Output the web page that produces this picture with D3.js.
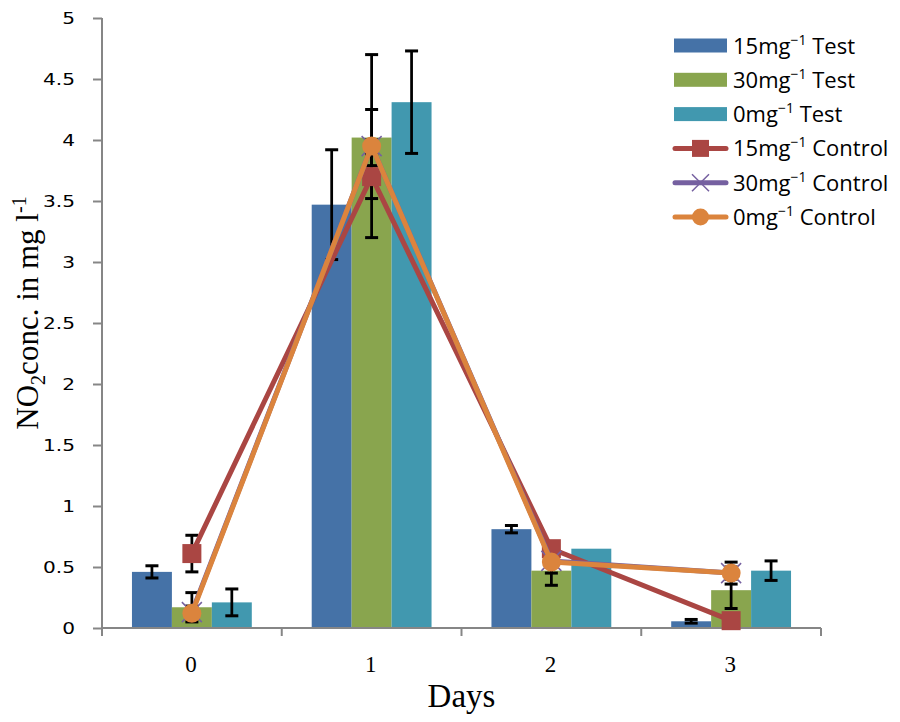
<!DOCTYPE html>
<html>
<head>
<meta charset="utf-8">
<script src="https://cdn.jsdelivr.net/npm/d3@7"></script>
<style>
  html, body { margin: 0; padding: 0; background: #fff; }
  svg { display: block; }
</style>
</head>
<body>
<div id="chart"></div>
<script>
// ---------- DATA ----------
const categories = ["0", "1", "2", "3"];
const yTickValues = [0, 0.5, 1, 1.5, 2, 2.5, 3, 3.5, 4, 4.5, 5];
const yTickLabels = ["0", "0.5", "1", "1.5", "2", "2.5", "3", "3.5", "4", "4.5", "5"];

const test15 = [0.46, 3.47, 0.81, 0.055];
const test15Err = [0.05, 0.45, 0.03, 0.015];
const test30 = [0.17, 4.02, 0.47, 0.31];
const test30Err = [0.12, 0.23, 0.12, 0.15];
const test0 = [0.21, 4.31, 0.65, 0.47];
const test0Err = [0.11, 0.42, 0, 0.08];

const control15 = [0.61, 3.70, 0.65, 0.06];
const control15Err = [0.15, 0.18, 0, 0];
const control30 = [0.13, 3.95, 0.55, 0.45];
const control30Err = [0.05, 0.05, 0.10, 0.05];
const control0 = [0.12, 3.95, 0.54, 0.45];
const control0Err = [0, 0.75, 0, 0.09];

const barNames = ["15mg", "30mg", "0mg"];
const lineNames = ["15mg", "30mg", "0mg"];

// ---------- STRUCTURES ----------
const barSeries = [
  { name: barNames[0], values: test15, err: test15Err, color: "#4572A7" },
  { name: barNames[1], values: test30, err: test30Err, color: "#89A54E" },
  { name: barNames[2], values: test0, err: test0Err, color: "#4198AF" }
];
const lineSeries = [
  { name: lineNames[0], values: control15, err: control15Err, color: "#AA4643", marker: "square" },
  { name: lineNames[1], values: control30, err: control30Err, color: "#7560A0", marker: "x" },
  { name: lineNames[2], values: control0, err: control0Err, color: "#DB843D", marker: "circle" }
];

// ---------- LAYOUT ----------
const W = 900, H = 722;
const plot = { left: 102, right: 821, top: 18, bottom: 628 };

const svg = d3.select("#chart").append("svg").attr("width", W).attr("height", H);

const x0 = d3.scaleBand().domain(categories).range([plot.left, plot.right]).paddingInner(0).paddingOuter(0);
const x1 = d3.scaleBand().domain(barSeries.map((d, i) => i)).range([0, x0.bandwidth()]).paddingInner(0).paddingOuter(0.75);
const y = d3.scaleLinear().domain([0, 5]).range([plot.bottom, plot.top]);

// ---------- BARS ----------
const barG = svg.append("g");
barSeries.forEach((s, si) => {
  barG.selectAll(null).data(categories).enter().append("rect")
    .attr("x", c => x0(c) + x1(si))
    .attr("y", (c, i) => y(s.values[i]))
    .attr("width", x1.bandwidth())
    .attr("height", (c, i) => y(0) - y(s.values[i]))
    .attr("fill", s.color);
});

// ---------- ERROR BARS ----------
const capW = 13;
function errorBars(g, cx, values, errs) {
  categories.forEach((c, i) => {
    const e = errs[i];
    if (!e) return;
    const xc = cx(c);
    const yt = y(values[i] + e), yb = y(Math.max(values[i] - e, -0.02));
    g.append("line").attr("x1", xc).attr("x2", xc).attr("y1", yt).attr("y2", yb)
      .attr("stroke", "#000").attr("stroke-width", 2.75);
    g.append("line").attr("x1", xc - capW / 2).attr("x2", xc + capW / 2).attr("y1", yt).attr("y2", yt)
      .attr("stroke", "#000").attr("stroke-width", 3);
    g.append("line").attr("x1", xc - capW / 2).attr("x2", xc + capW / 2).attr("y1", yb).attr("y2", yb)
      .attr("stroke", "#000").attr("stroke-width", 3);
  });
}
const errG = svg.append("g");
barSeries.forEach((s, si) => {
  errorBars(errG, c => x0(c) + x1(si) + x1.bandwidth() / 2, s.values, s.err);
});

// ---------- AXES ----------
const axisColor = "#868686";
const yAxis = svg.append("g").attr("transform", `translate(${plot.left},0)`)
  .call(d3.axisLeft(y).tickValues(yTickValues).tickFormat((d, i) => yTickLabels[i]).tickSize(9).tickPadding(14));
yAxis.select(".domain").attr("stroke", axisColor).attr("stroke-width", 2).attr("d", `M0,${plot.top}V${plot.bottom}`);
yAxis.selectAll(".tick line").attr("stroke", axisColor).attr("stroke-width", 2);
yAxis.selectAll(".tick text")
  .attr("x", null)
  .attr("transform", "translate(-27,0) scale(1.22,1)")
  .attr("font-family", "'DejaVu Sans', sans-serif").attr("font-size", 16.5)
  .attr("fill", "#000");

const xAxisG = svg.append("g").attr("transform", `translate(0,${plot.bottom})`);
xAxisG.append("line").attr("x1", plot.left).attr("x2", plot.right).attr("y1", 0).attr("y2", 0)
  .attr("stroke", axisColor).attr("stroke-width", 2);
const boundaries = categories.map(c => x0(c)).concat([x0(categories[categories.length - 1]) + x0.bandwidth()]);
xAxisG.selectAll(null).data(boundaries).enter().append("line")
  .attr("x1", d => d).attr("x2", d => d).attr("y1", 0).attr("y2", 8)
  .attr("stroke", axisColor).attr("stroke-width", 2);
xAxisG.selectAll(null).data(categories).enter().append("text")
  .attr("x", c => x0(c) + x0.bandwidth() / 2 - 1)
  .attr("y", 44)
  .attr("text-anchor", "middle")
  .attr("font-family", "'Liberation Serif', serif").attr("font-size", 23)
  .attr("fill", "#000")
  .text(c => c);

svg.append("text").attr("x", (plot.left + plot.right) / 2).attr("y", 707)
  .attr("text-anchor", "middle").attr("font-family", "'Liberation Serif', serif")
  .attr("font-size", 33).attr("fill", "#000").text("Days");

const yt = svg.append("text").attr("transform", "translate(38,313) rotate(-90)")
  .attr("text-anchor", "middle").attr("font-family", "'Liberation Serif', serif")
  .attr("font-size", 31).attr("fill", "#000");
yt.append("tspan").text("NO");
yt.append("tspan").attr("font-size", 20).attr("dy", 7).text("2");
yt.append("tspan").attr("dy", -7).text("conc. in mg l");
yt.append("tspan").attr("font-size", 20).attr("dy", -12).text("-1");

// ---------- LINES ----------
function drawMarker(g, type, cx, cy, color, size) {
  if (type === "square") {
    g.append("rect").attr("x", cx - size / 2).attr("y", cy - size / 2)
      .attr("width", size).attr("height", size).attr("fill", color);
  } else if (type === "circle") {
    g.append("circle").attr("cx", cx).attr("cy", cy).attr("r", size / 2).attr("fill", color);
  } else {
    const h = size / 2;
    g.append("path").attr("d", `M${cx - h},${cy - h}L${cx + h},${cy + h}M${cx - h},${cy + h}L${cx + h},${cy - h}`)
      .attr("stroke", color).attr("stroke-width", 1.5).attr("fill", "none");
  }
}

const lineG = svg.append("g");
lineSeries.forEach(s => {
  const cx = c => x0(c) + x0.bandwidth() / 2;
  errorBars(lineG, cx, s.values, s.err);
});
lineSeries.forEach(s => {
  const cx = c => x0(c) + x0.bandwidth() / 2;
  const line = d3.line().x((d, i) => cx(categories[i])).y(d => y(d));
  lineG.append("path").datum(s.values).attr("d", line)
    .attr("fill", "none").attr("stroke", s.color).attr("stroke-width", 5)
    .attr("stroke-linejoin", "round").attr("stroke-linecap", "round");
  s.values.forEach((v, i) => drawMarker(lineG, s.marker, cx(categories[i]), y(v), s.color, s.marker === "x" ? 20 : 19));
});

// ---------- LEGEND ----------
const legend = svg.append("g");
const legendItems = [
  { kind: "bar", s: barSeries[0], label: barNames[0], suffix: " Test" },
  { kind: "bar", s: barSeries[1], label: barNames[1], suffix: " Test" },
  { kind: "bar", s: barSeries[2], label: barNames[2], suffix: " Test" },
  { kind: "line", s: lineSeries[0], label: lineNames[0], suffix: " Control" },
  { kind: "line", s: lineSeries[1], label: lineNames[1], suffix: " Control" },
  { kind: "line", s: lineSeries[2], label: lineNames[2], suffix: " Control" }
];
legendItems.forEach((it, i) => {
  const cy = 45.5 + i * 34.3;
  if (it.kind === "bar") {
    legend.append("rect").attr("x", 674).attr("y", cy - 7).attr("width", 53).attr("height", 14).attr("fill", it.s.color);
  } else {
    legend.append("line").attr("x1", 675).attr("x2", 726).attr("y1", cy).attr("y2", cy)
      .attr("stroke", it.s.color).attr("stroke-width", 5).attr("stroke-linecap", "round");
    drawMarker(legend, it.s.marker, 700.5, cy, it.s.color, 17);
  }
  const t = legend.append("text").attr("x", 733).attr("y", cy + 8)
    .attr("font-family", "'Open Sans', sans-serif").attr("font-size", 22).attr("fill", "#000");
  t.append("tspan").text(it.label);
  t.append("tspan").attr("font-size", 14).attr("dy", -9).text("\u22121");
  t.append("tspan").attr("dy", 9).text(it.suffix);
});
</script>
</body>
</html>
